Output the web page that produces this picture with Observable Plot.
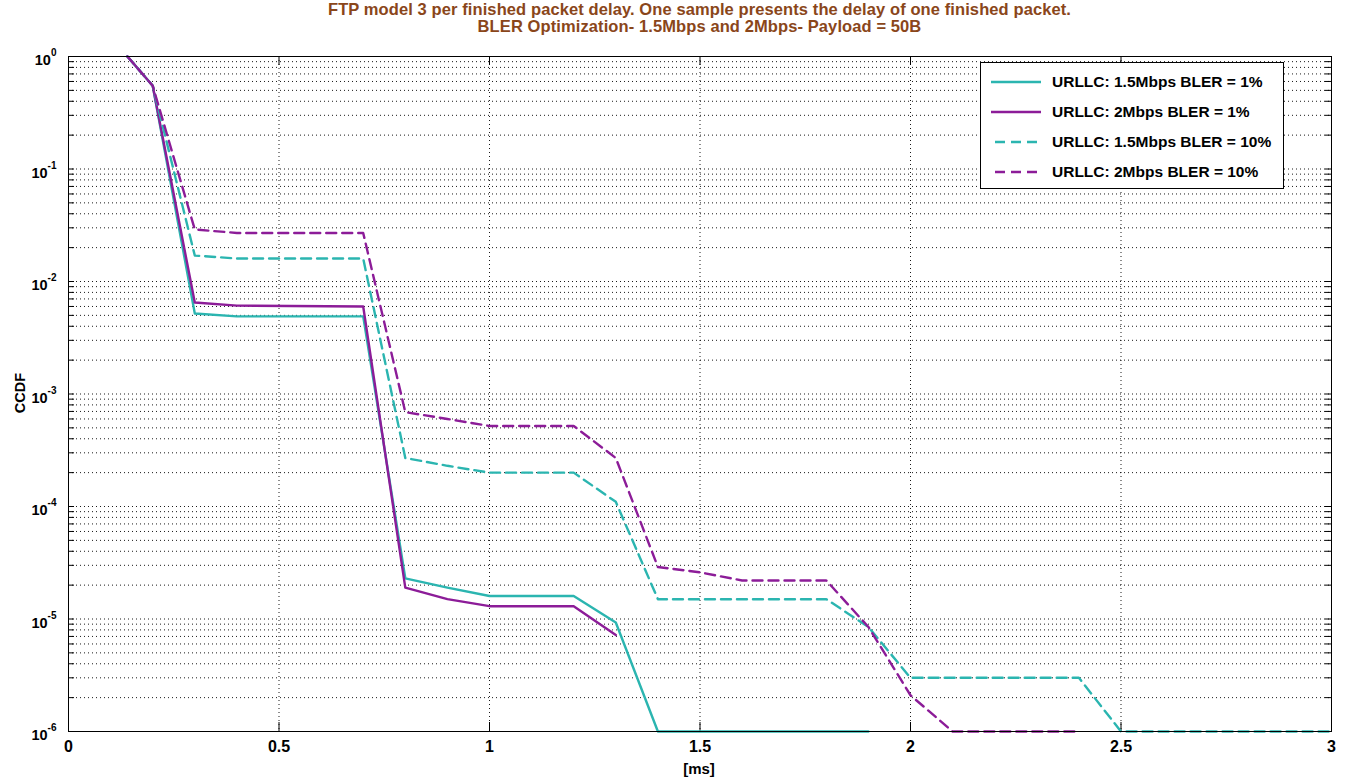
<!DOCTYPE html>
<html>
<head>
<meta charset="utf-8">
<script src="https://cdn.jsdelivr.net/npm/d3@7"></script>
<script src="https://cdn.jsdelivr.net/npm/@observablehq/plot@0.6"></script>
<style>
  html, body { margin: 0; padding: 0; background: #fff; }
  #wrap { position: relative; width: 1347px; height: 781px; overflow: hidden;
          font-family: "Liberation Sans", Arial, sans-serif; }
  #title { position: absolute; left: 68px; width: 1263px; top: 1px; text-align: center;
           color: #8a461a; font-weight: bold; font-size: 16.5px; line-height: 17px; letter-spacing: 0.1px; }
  #chart { position: absolute; left: 0; top: 35px; }
  #ylabel { position: absolute; left: 20px; top: 393px; transform: translate(-50%, -50%) rotate(-90deg);
            font-weight: bold; font-size: 14.5px; }
  #xlabel { position: absolute; left: 699px; top: 768px; transform: translate(-50%, -50%);
            font-weight: bold; font-size: 15px; }
  #legend { position: absolute; left: 980px; top: 62px; width: 304px; height: 127px;
            background: #fff; border: 1px solid #000; box-sizing: border-box; }
  .row { position: absolute; left: 0; height: 20px; display: flex; align-items: center; }
  .row svg { margin-left: 10px; }
  .row span { margin-left: 11px; font-weight: bold; font-size: 15.5px; }
</style>
</head>
<body>
<div id="wrap">
  <div id="title">FTP model 3 per finished packet delay. One sample presents the delay of one finished packet.<br>BLER Optimization- 1.5Mbps and 2Mbps- Payload = 50B</div>
  <div id="chart"></div>
  <div id="ylabel">CCDF</div>
  <div id="xlabel">[ms]</div>
  <div id="legend"></div>
</div>
<script>
// Series names, colours and dash styles
const seriesNames = [
  "URLLC: 1.5Mbps BLER = 1%",
  "URLLC: 2Mbps BLER = 1%",
  "URLLC: 1.5Mbps BLER = 10%",
  "URLLC: 2Mbps BLER = 10%"
];
const seriesColors = ["#2bb5b0", "#8c1c98", "#2bb5b0", "#8c1c98"];
const seriesDashed = [false, false, true, true];

// Delay [ms] and CCDF samples for each series
const delay15Bler1 = [0.14, 0.2, 0.3, 0.4, 0.7, 0.8, 0.9, 1.0, 1.2, 1.3, 1.4, 1.9];
const ccdf15Bler1  = [1, 0.55, 0.0052, 0.0049, 0.0049, 2.3e-5, 1.9e-5, 1.6e-5, 1.6e-5, 9.3e-6, 1e-6, 1e-6];

const delay2Bler1 = [0.14, 0.2, 0.3, 0.4, 0.7, 0.8, 0.9, 1.0, 1.2, 1.3];
const ccdf2Bler1  = [1, 0.55, 0.0065, 0.0061, 0.006, 1.9e-5, 1.5e-5, 1.3e-5, 1.3e-5, 7.2e-6];

const delay15Bler10 = [0.14, 0.2, 0.3, 0.4, 0.7, 0.8, 0.9, 1.0, 1.2, 1.3, 1.4, 1.8, 1.9, 2.0, 2.4, 2.5, 3.0];
const ccdf15Bler10  = [1, 0.55, 0.017, 0.016, 0.016, 2.7e-4, 2.3e-4, 2.0e-4, 2.0e-4, 1.1e-4, 1.5e-5, 1.5e-5, 8.5e-6, 3.0e-6, 3.0e-6, 1e-6, 1e-6];

const delay2Bler10 = [0.14, 0.2, 0.3, 0.4, 0.7, 0.8, 0.9, 1.0, 1.2, 1.3, 1.4, 1.5, 1.6, 1.8, 1.9, 2.0, 2.1, 2.4];
const ccdf2Bler10  = [1, 0.55, 0.029, 0.027, 0.027, 6.9e-4, 6.0e-4, 5.2e-4, 5.2e-4, 2.7e-4, 2.9e-5, 2.6e-5, 2.2e-5, 2.2e-5, 8.5e-6, 2.1e-6, 1e-6, 1e-6];

// Axis ticks
const xTicks = [0, 0.5, 1, 1.5, 2, 2.5, 3];
const yDecades = [1e0, 1e-1, 1e-2, 1e-3, 1e-4, 1e-5, 1e-6];

const delays = [delay15Bler1, delay2Bler1, delay15Bler10, delay2Bler10];
const ccdfs = [ccdf15Bler1, ccdf2Bler1, ccdf15Bler10, ccdf2Bler10];
const series = delays.map((xs, i) => xs.map((x, j) => ({x, y: ccdfs[i][j]})));

// every log gridline: 1..9 × 10^k
const yMinor = [];
for (let k = -6; k < 0; k++) for (let m = 1; m <= 9; m++) yMinor.push(m * Math.pow(10, k));
const xInner = xTicks.slice(1, -1);

const width = 1347, height = 746;
const margin = {top: 21, right: 16, bottom: 50, left: 68};
const innerW = width - margin.left - margin.right;
const innerH = height - margin.top - margin.bottom;

const dotted = {stroke: "#000", strokeOpacity: 0.9, strokeWidth: 1, strokeDasharray: "1,3"};

const chart = Plot.plot({
  width, height,
  marginTop: margin.top, marginRight: margin.right, marginBottom: margin.bottom, marginLeft: margin.left,
  style: {background: "#fff", fontFamily: "'Liberation Sans', Arial, sans-serif"},
  x: {domain: [0, 3]},
  y: {type: "log", domain: [1e-6, 1]},
  marks: [
    Plot.gridY(yMinor, dotted),
    Plot.gridX(xInner, dotted),
    // minor tick marks inside the left and right edges
    Plot.ruleY(yMinor, {stroke: "#000", insetRight: innerW - 6}),
    Plot.ruleY(yMinor, {stroke: "#000", insetLeft: innerW - 6}),
    // major tick marks inside the top and bottom edges
    Plot.ruleX(xInner, {stroke: "#000", insetTop: innerH - 9}),
    Plot.ruleX(xInner, {stroke: "#000", insetBottom: innerH - 9}),
    ...series.map((d, i) => Plot.line(d, {
      x: "x", y: "y",
      stroke: seriesColors[i],
      strokeWidth: 2.4,
      strokeDasharray: seriesDashed[i] ? "10,6" : null,
      curve: "linear"
    })),
    Plot.frame({stroke: "#000", strokeWidth: 1}),
    Plot.axisX(xTicks, {tickSize: 0, tickPadding: 9, fontSize: 16, fontWeight: "bold", label: null,
      tickFormat: d => String(d)}),
    Plot.axisY(yDecades, {tickSize: 0, tickPadding: 12, fontSize: 14.5, fontWeight: "bold", label: null,
      tickFormat: d => String(Math.round(Math.log10(d)))})
  ]
});
document.getElementById("chart").appendChild(chart);

// turn the exponent labels into 10 with a superscript
chart.querySelectorAll('g[aria-label="y-axis tick label"] text').forEach(t => {
  const exp = t.textContent;
  t.textContent = "";
  const base = document.createElementNS("http://www.w3.org/2000/svg", "tspan");
  base.textContent = "10";
  base.setAttribute("dy", "4");
  const sup = document.createElementNS("http://www.w3.org/2000/svg", "tspan");
  sup.textContent = exp;
  sup.setAttribute("dy", "-9");
  sup.setAttribute("font-size", "10");
  t.appendChild(base);
  t.appendChild(sup);
});

// legend
const legend = document.getElementById("legend");
seriesNames.forEach((name, i) => {
  const row = document.createElement("div");
  row.className = "row";
  row.style.top = (9 + i * 30) + "px";
  const dash = seriesDashed[i] ? ' stroke-dasharray="10,6" stroke-dashoffset="-4"' : "";
  row.innerHTML = `<svg width="50" height="10"><line x1="0" y1="5" x2="50" y2="5" stroke="${seriesColors[i]}" stroke-width="2.4"${dash}/></svg><span>${name}</span>`;
  legend.appendChild(row);
});
</script>
</body>
</html>
